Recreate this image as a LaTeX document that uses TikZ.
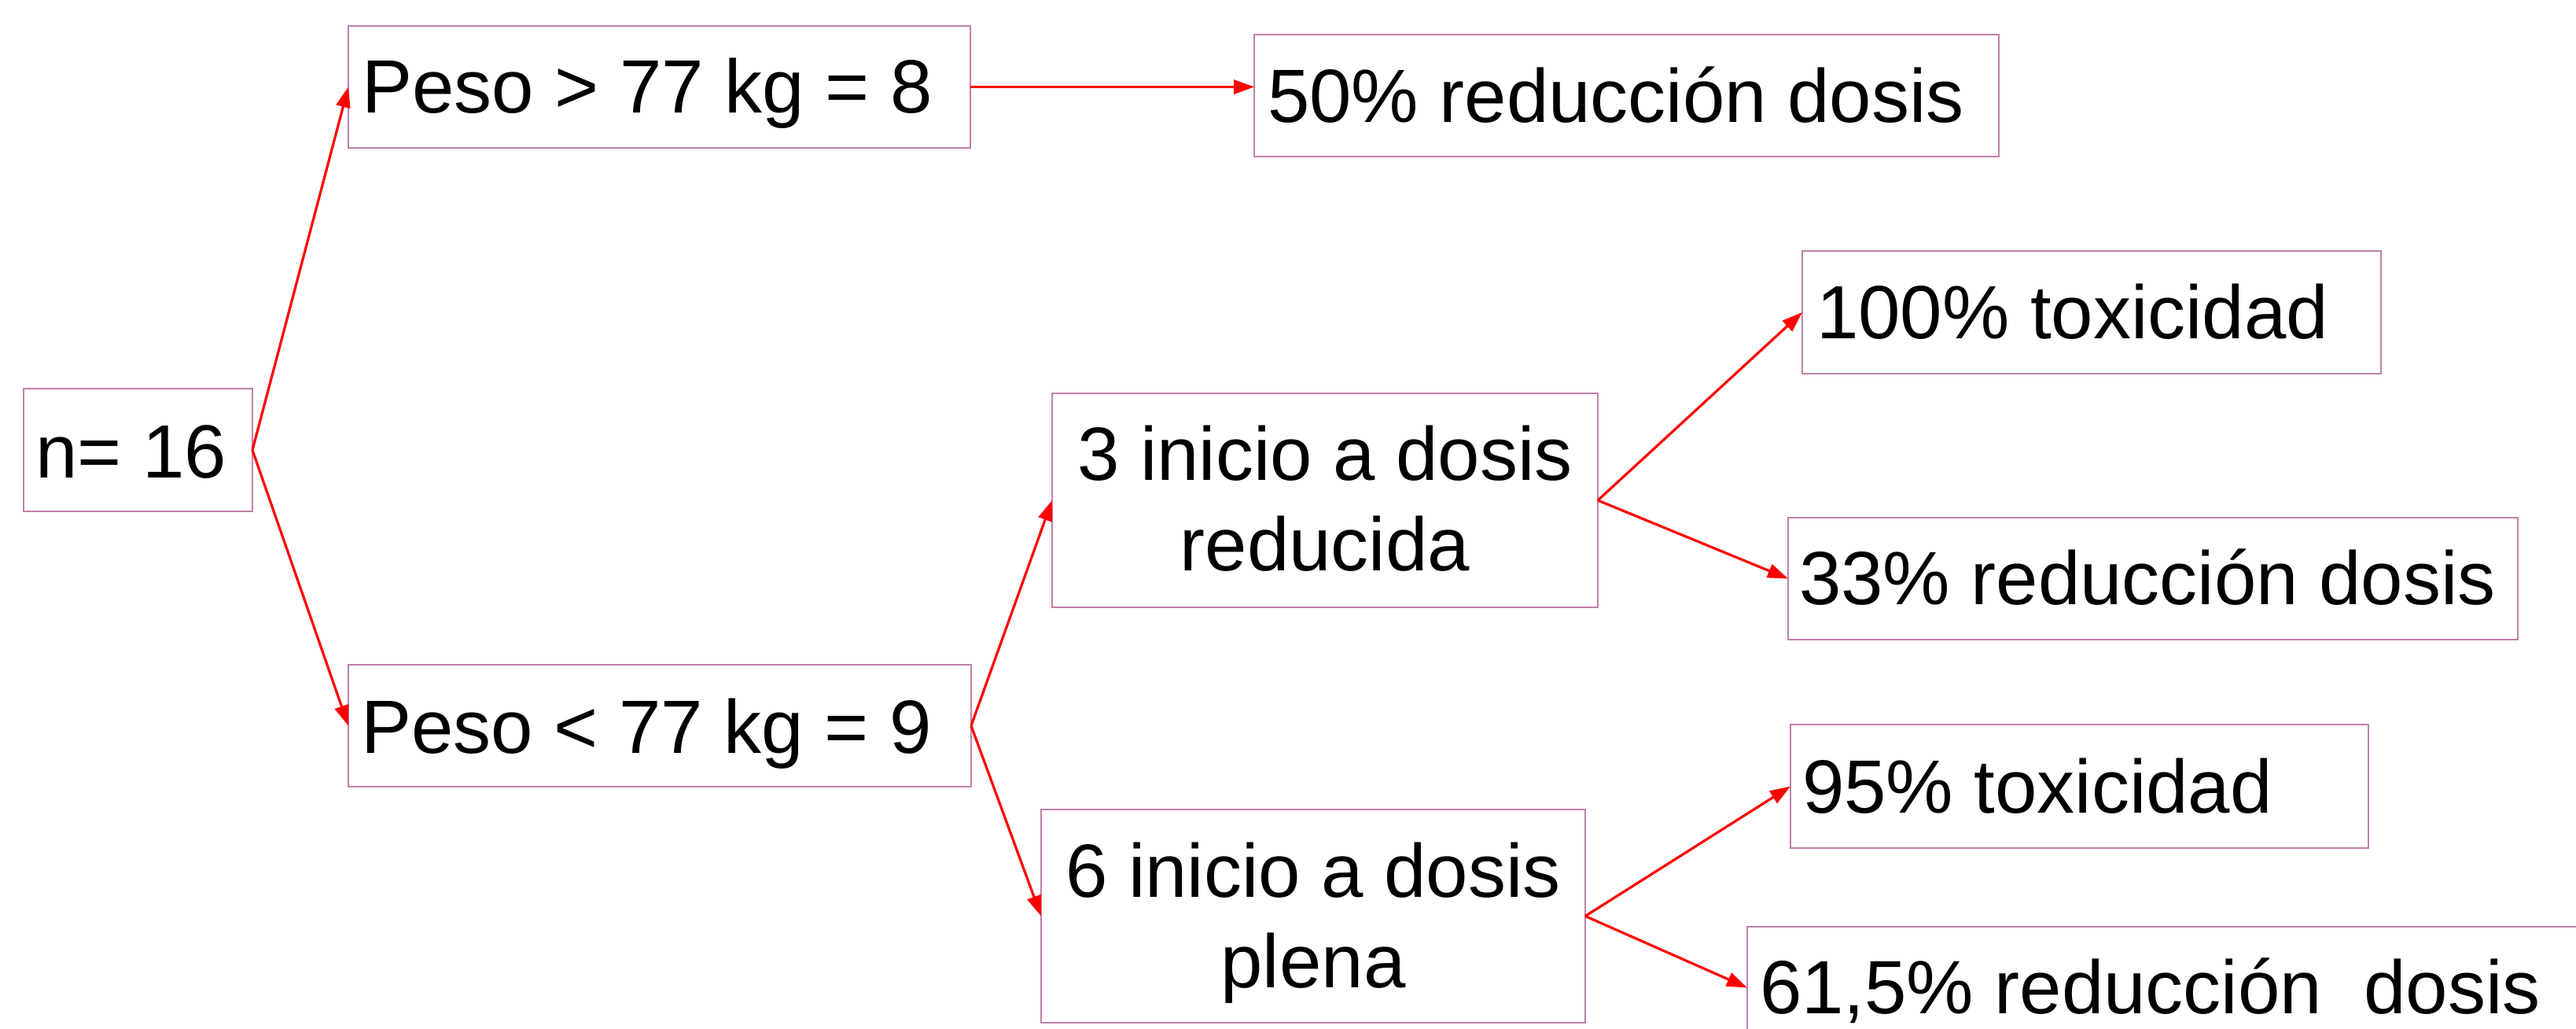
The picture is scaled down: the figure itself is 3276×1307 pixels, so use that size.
\documentclass[tikz,border=0pt]{standalone}
\usepackage{fontspec}
\setmainfont{Liberation Sans}
\usetikzlibrary{arrows.meta}
\definecolor{boxc}{RGB}{192,128,168}
\tikzset{
  box/.style={draw=boxc, line width=1.2pt, rectangle, inner sep=0pt, outer sep=0pt, fill=white},
  lbl/.style={inner sep=0pt, outer sep=0pt, font=\fontsize{48pt}{57.5pt}\selectfont, text=black},
  link/.style={draw=red, line width=1.6pt, -{Triangle[length=13pt,width=9pt]}}
}
\begin{document}
\begin{tikzpicture}[x=0.5pt,y=-0.5pt]
\useasboundingbox (0,0) rectangle (3276,1307);
\clip (0,0) rectangle (3276,1307);
\fill[white] (0,0) rectangle (3276,1307);
% boxes
\node[box, minimum width=145.5pt, minimum height=78pt] (n16) at (175.5,572) {};
\node[box, minimum width=395.5pt, minimum height=77.5pt] (pg) at (838.5,110.5) {};
\node[box, minimum width=473.5pt, minimum height=77.5pt] (r50) at (2068.5,121.5) {};
\node[box, minimum width=396pt, minimum height=77.5pt] (pl) at (839,922.5) {};
\node[box, minimum width=347pt, minimum height=136pt] (ir) at (1685,636) {};
\node[box, minimum width=346pt, minimum height=135.5pt] (ip) at (1670,1164.5) {};
\node[box, minimum width=368pt, minimum height=78pt] (t100) at (2660,397) {};
\node[box, minimum width=464pt, minimum height=77.5pt] (r33) at (2738,735.5) {};
\node[box, minimum width=367.5pt, minimum height=78.5pt] (t95) at (2644.5,999.5) {};
\node[box, minimum width=554pt, minimum height=77.5pt] (r61) at (2776,1255.5) {};
% texts
\node[lbl, anchor=base west] (tn16) at (45,607) {n= 16};
\node[lbl, anchor=base west] (tpg) at (460,143) {Peso > 77 kg = 8};
\node[lbl, anchor=base west] (tr50) at (1612,155) {50\% reducción dosis};
\node[lbl, anchor=base west] (tpl) at (459,957) {Peso < 77 kg = 9};
\node[lbl, anchor=base] (tir1) at (1685,610) {3 inicio a dosis};
\node[lbl, anchor=base] (tir2) at (1685,725) {reducida};
\node[lbl, anchor=base] (tip1) at (1670,1140) {6 inicio a dosis};
\node[lbl, anchor=base] (tip2) at (1670,1255) {plena};
\node[lbl, anchor=base west] (tt100) at (2310,430) {100\% toxicidad};
\node[lbl, anchor=base west] (tr33) at (2288,768) {33\% reducción dosis};
\node[lbl, anchor=base west] (tt95) at (2292,1033) {95\% toxicidad};
\node[lbl, anchor=base west] (tr61) at (2238,1288) {61,5\% reducción\ \ dosis};
% connectors
\draw[link] (n16.east) -- (pg.west);
\draw[link] (n16.east) -- (pl.west);
\draw[link] (pg.east) -- (r50.west |- pg.east);
\draw[link] (pl.east) -- (ir.west);
\draw[link] (pl.east) -- (ip.west);
\draw[link] (ir.east) -- (t100.west);
\draw[link] (ir.east) -- (r33.west);
\draw[link] (ip.east) -- (t95.west);
\draw[link] (ip.east) -- (r61.west);
\end{tikzpicture}
\end{document}
